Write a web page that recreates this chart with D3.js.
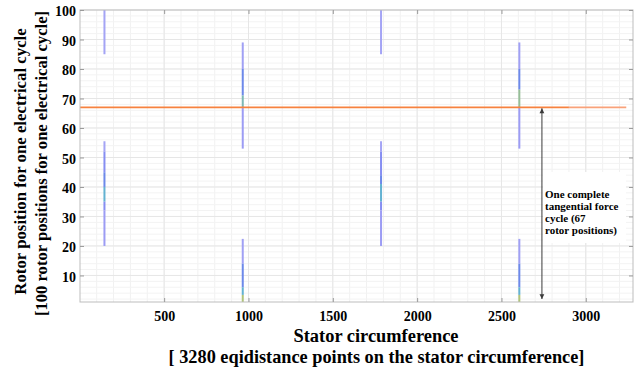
<!DOCTYPE html>
<html>
<head>
<meta charset="utf-8">
<script src="https://cdn.jsdelivr.net/npm/d3@7"></script>
<style>
  html, body { margin: 0; padding: 0; background: #ffffff; }
  svg { display: block; }
  text { font-family: "Liberation Serif", "Times New Roman", serif; font-weight: bold; fill: #000; }
</style>
</head>
<body>
<svg id="chart" width="639" height="371"></svg>
<script>
// Stator points (x) and rotor positions (y)
const xDomain = [1, 3280];
const yDomain = [1, 100];
const xTicks = [500, 1000, 1500, 2000, 2500, 3000];
const yTicks = [10, 20, 30, 40, 50, 60, 70, 80, 90, 100];

// Stator points where the force peaks appear
const peakColumns = [146, 966, 1786, 2606];

// Bands of each peak trace: column index, rotor position from/to, normalised level
const bandCol = [0, 0, 0, 0, 0, 0, 0,   1, 1, 1, 1, 1, 1, 1, 1,   2, 2, 2, 2, 2, 2, 2,   3, 3, 3, 3, 3, 3, 3, 3];
const bandFrom = [85, 52, 45, 40, 35, 32, 20,   80, 71, 67, 53, 14, 6, 3.4, 1,   85, 52, 44, 41, 35, 32, 20,   80, 73, 67, 53, 14, 6, 3.4, 1];
const bandTo   = [100, 55.5, 52, 45, 40, 35, 32,   89, 80, 71, 67, 22.4, 14, 6, 3.4,   100, 55.5, 52, 44, 41, 35, 32,   89, 80, 73, 67, 22.4, 14, 6, 3.4];
const bandLevel = [0.2, 0.2, 0.45, 0.65, 0.85, 0.45, 0.3,   0.25, 0.65, 0.9, 0.3, 0.25, 0.65, 0.85, 1.0,   0.2, 0.2, 0.45, 0.65, 0.85, 0.45, 0.3,   0.25, 0.65, 0.95, 0.3, 0.25, 0.65, 0.85, 1.0];

// Force cycle marker: 67 rotor positions
const cycleLength = 67;
const cycleLineFrom = [1, 2900];
const cycleLineTo = [2900, 3240];
const arrowStator = 2740;
const arrowRotor = [1, 67];
const noteLines = ["One complete", "tangential force", "cycle (67", "rotor positions)"];

const xTitle = "Stator circumference";
const xSubtitle = "[ 3280 eqidistance points on the stator circumference]";
const yTitle = "Rotor position for one electrical cycle";
const ySubtitle = "[100 rotor positions for one electrical cycle]";

const svg = d3.select("#chart");
const plot = { left: 80, right: 633, top: 10, bottom: 302 };

const x = d3.scaleLinear().domain(xDomain).range([plot.left, plot.right]);
const y = d3.scaleLinear().domain(yDomain).range([plot.bottom, plot.top]);

const color = d3.scaleLinear()
  .domain([0, 0.3, 0.6, 0.85, 1])
  .range(["#b4b4f6", "#9c9cf4", "#6f7ff0", "#63b2d2", "#b0c47a"]);

// Background
svg.append("rect").attr("width", 639).attr("height", 371).attr("fill", "#fff");

// Minor grid
const gMinor = svg.append("g");
gMinor.selectAll("line.vx").data(d3.range(100, 3280, 100)).join("line")
  .attr("x1", d => x(d)).attr("x2", d => x(d))
  .attr("y1", plot.top).attr("y2", plot.bottom)
  .attr("stroke", "#f1f1f1").attr("stroke-width", 1);
gMinor.selectAll("line.hy").data(d3.range(2, 100, 2)).join("line")
  .attr("y1", d => y(d)).attr("y2", d => y(d))
  .attr("x1", plot.left).attr("x2", plot.right)
  .attr("stroke", "#f3f3f3").attr("stroke-width", 1);

// Major grid
const gMajor = svg.append("g");
gMajor.selectAll("line.gx").data(xTicks).join("line")
  .attr("x1", d => x(d)).attr("x2", d => x(d))
  .attr("y1", plot.top).attr("y2", plot.bottom)
  .attr("stroke", "#e6e6e6");
gMajor.selectAll("line.gy").data(yTicks).join("line")
  .attr("y1", d => y(d)).attr("y2", d => y(d))
  .attr("x1", plot.left).attr("x2", plot.right)
  .attr("stroke", "#e6e6e6");

// Peak traces
const bands = bandCol.map((c, i) => ({ x: peakColumns[c], from: bandFrom[i], to: bandTo[i], level: bandLevel[i] }));
svg.append("g").selectAll("rect").data(bands).join("rect")
  .attr("x", d => x(d.x) - 1)
  .attr("width", 2)
  .attr("y", d => y(d.to))
  .attr("height", d => y(d.from) - y(d.to))
  .attr("fill", d => color(d.level));

// Cycle line at 67 rotor positions
svg.append("line")
  .attr("x1", x(cycleLineFrom[0])).attr("x2", x(cycleLineFrom[1]))
  .attr("y1", y(cycleLength)).attr("y2", y(cycleLength))
  .attr("stroke", "#f7823f").attr("stroke-width", 1.8);
svg.append("line")
  .attr("x1", x(cycleLineTo[0])).attr("x2", x(cycleLineTo[1]))
  .attr("y1", y(cycleLength)).attr("y2", y(cycleLength))
  .attr("stroke", "#f9a27a").attr("stroke-width", 1.8);

// Axes box
svg.append("rect")
  .attr("x", plot.left).attr("y", plot.top)
  .attr("width", plot.right - plot.left).attr("height", plot.bottom - plot.top)
  .attr("fill", "none").attr("stroke", "#bdbdbd").attr("stroke-width", 1);

// Axes with inward ticks
const tickColor = "#9a9a9a";
function styleAxis(g) {
  g.attr("font-family", null).attr("font-size", null);
  g.select(".domain").remove();
  g.selectAll(".tick line").attr("stroke", tickColor);
  g.selectAll("text").style("font-size", "14px").attr("fill", "#000");
}
svg.append("g").attr("transform", `translate(0,${plot.bottom})`)
  .call(d3.axisBottom(x).tickValues(xTicks).tickFormat(d3.format("d")).tickSizeInner(-4).tickPadding(9))
  .call(styleAxis);
svg.append("g").attr("transform", `translate(0,${plot.top})`)
  .call(d3.axisTop(x).tickValues(xTicks).tickFormat("").tickSizeInner(-4))
  .call(g => { g.select(".domain").remove(); g.selectAll(".tick line").attr("stroke", tickColor); });
svg.append("g").attr("transform", `translate(${plot.left},0)`)
  .call(d3.axisLeft(y).tickValues(yTicks).tickFormat(d3.format("d")).tickSizeInner(-4).tickPadding(4))
  .call(styleAxis)
  .call(g => g.selectAll("text").attr("dy", "0.42em"));
svg.append("g").attr("transform", `translate(${plot.right},0)`)
  .call(d3.axisRight(y).tickValues(yTicks).tickFormat("").tickSizeInner(-4))
  .call(g => { g.select(".domain").remove(); g.selectAll(".tick line").attr("stroke", tickColor); });

// Note box and double arrow
svg.append("rect").attr("x", 543).attr("y", 172).attr("width", 83).attr("height", 71).attr("fill", "#fff");

const defs = svg.append("defs");
defs.append("marker").attr("id", "head")
  .attr("viewBox", "0 0 8 10").attr("refX", 8).attr("refY", 5)
  .attr("markerWidth", 6).attr("markerHeight", 6).attr("orient", "auto-start-reverse")
  .attr("markerUnits", "userSpaceOnUse")
  .append("path").attr("d", "M0,1 L8,5 L0,9 Z").attr("fill", "#3a3a3a");

svg.append("line")
  .attr("x1", x(arrowStator)).attr("x2", x(arrowStator))
  .attr("y1", y(arrowRotor[1]) + 1).attr("y2", y(arrowRotor[0]) - 3)
  .attr("stroke", "#3a3a3a").attr("stroke-width", 1)
  .attr("marker-start", "url(#head)").attr("marker-end", "url(#head)");

svg.append("g").selectAll("text").data(noteLines).join("text")
  .attr("x", 545).attr("y", (d, i) => 197.5 + i * 12.2)
  .style("font-size", "11px")
  .text(d => d);

// Axis titles
svg.append("text").attr("x", 376).attr("y", 342).attr("text-anchor", "middle")
  .style("font-size", "18.4px")
  .text(xTitle);
svg.append("text").attr("x", 376.5).attr("y", 363).attr("text-anchor", "middle")
  .style("font-size", "18.3px")
  .text(xSubtitle);

svg.append("text").attr("transform", "translate(26,161.5) rotate(-90)").attr("text-anchor", "middle")
  .style("font-size", "16.8px")
  .text(yTitle);
svg.append("text").attr("transform", "translate(46.5,163.5) rotate(-90)").attr("text-anchor", "middle")
  .style("font-size", "16.6px")
  .text(ySubtitle);
</script>
</body>
</html>
